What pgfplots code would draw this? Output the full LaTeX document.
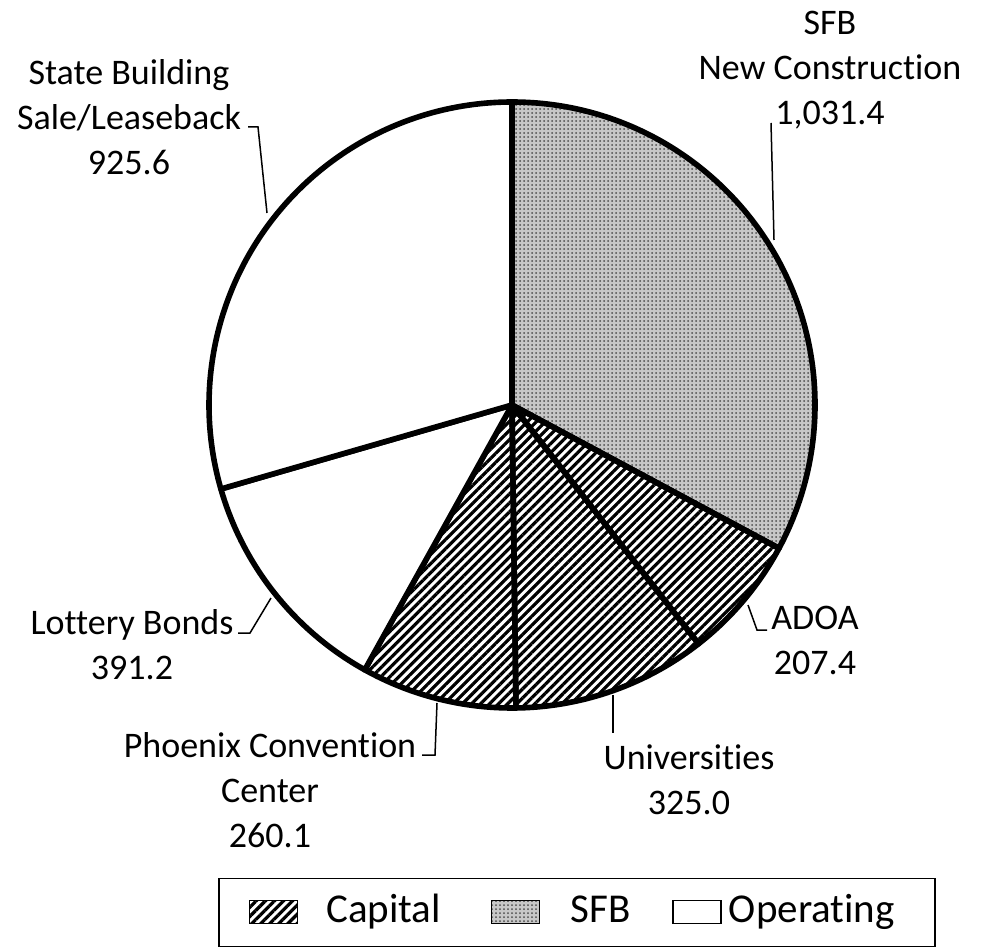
\documentclass[border=0pt]{standalone}
\usepackage{fontspec}
\setmainfont{Carlito}[Ligatures=NoCommon]
\usepackage{pgfplots}
\usepackage{pgfplotstable}
\pgfplotsset{compat=1.18}
\usetikzlibrary{patterns.meta}

% slices clockwise from 12 o'clock
\pgfplotstableread{
name value
SFB 1031.4
ADOA 207.4
Universities 325.0
Phoenix 260.1
Lottery 391.2
State 925.6
}\piedata

\def\total{0}%
\pgfplotsforeachungrouped \i in {0,...,5}{%
  \pgfplotstablegetelem{\i}{value}\of\piedata
  \pgfmathsetmacro\total{\total+\pgfplotsretval}}%
\def\cum{0}%
\pgfplotsforeachungrouped \i in {0,...,5}{%
  \pgfplotstablegetelem{\i}{value}\of\piedata
  \pgfmathsetmacro\angA{90-\cum/\total*360}%
  \pgfmathsetmacro\cum{\cum+\pgfplotsretval}%
  \pgfmathsetmacro\angB{90-\cum/\total*360}%
  \expandafter\xdef\csname a\i\endcsname{\angA}%
  \expandafter\xdef\csname b\i\endcsname{\angB}}%

\tikzset{
  capital/.style={pattern={Lines[angle=45,distance=3.2pt,line width=1.6pt]}, pattern color=black},
  sfb/.style={preaction={fill=black!22}, pattern={Dots[distance=2pt,radius=0.5pt]}, pattern color=black!70},
  operating/.style={fill=white},
  leader/.style={draw=black, line width=0.75pt},
  lbl/.style={align=center, font=\fontsize{18}{22.5}\selectfont},
}
% one wedge, centre (512,544), radius 303 units = 151.5pt
\newcommand\slice[2]{\edef\tmp{\noexpand\filldraw[#2, draw=black, line width=2.8pt, line join=round]
  (axis cs:512,544) -- ++(\csname a#1\endcsname:151.5pt)
  arc[start angle=\csname a#1\endcsname, end angle=\csname b#1\endcsname, radius=151.5pt] -- cycle;}\tmp}

\begin{document}
\begin{tikzpicture}
\begin{axis}[
  x=0.5pt, y=0.5pt, xmin=0, xmax=983, ymin=0, ymax=949,
  hide axis, clip=false,
  legend columns=3,
  legend image code/.code={\filldraw[#1, draw=black, line width=0.75pt] (0pt,-0.5pt) rectangle (24pt,11pt);},
  legend style={at={(axis cs:218,2)}, anchor=south west, draw=black, line width=0.75pt,
    font=\fontsize{20.5}{24}\selectfont, inner xsep=15pt, inner ysep=7pt,
    nodes={inner sep=0pt, text height=15pt, text depth=5pt, anchor=base},
    /tikz/column 1/.style={column sep=14pt},
    /tikz/column 2/.style={column sep=25pt},
    /tikz/column 3/.style={column sep=15pt},
    /tikz/column 4/.style={column sep=21pt},
    /tikz/column 5/.style={column sep=3.5pt}},
]
\path (axis cs:0,0) rectangle (axis cs:983,949);
\addlegendimage{capital}\addlegendentry{Capital}
\addlegendimage{sfb}\addlegendentry{SFB}
\addlegendimage{operating}\addlegendentry{Operating\hspace*{5pt}}

\slice{0}{sfb}
\slice{1}{capital}
\slice{2}{capital}
\slice{3}{capital}
\slice{4}{operating}
\slice{5}{operating}

% leader lines
\draw[leader] (axis cs:771,826) -- (axis cs:774,709);
\draw[leader] (axis cs:248,822) -- (axis cs:258,822) -- (axis cs:267,736);
\draw[leader] (axis cs:238,316) -- (axis cs:250,316) -- (axis cs:271,351);
\draw[leader] (axis cs:422,194) -- (axis cs:435,194) -- (axis cs:437,246);
\draw[leader] (axis cs:767,319) -- (axis cs:757,319) -- (axis cs:748,344);
\draw[leader] (axis cs:613,254) -- (axis cs:613,216);

% labels
\node[lbl] at (axis cs:830,879) {SFB\\New Construction\\1,031.4};
\node[lbl] at (axis cs:129,832) {State Building\\Sale/Leaseback\\925.6};
\node[lbl] at (axis cs:132,304) {Lottery Bonds\\391.2};
\node[lbl] at (axis cs:270,159) {Phoenix Convention\\Center\\260.1};
\node[lbl] at (axis cs:815,309) {ADOA\\207.4};
\node[lbl] at (axis cs:689,169) {Universities\\325.0};
\end{axis}
\end{tikzpicture}
\end{document}
